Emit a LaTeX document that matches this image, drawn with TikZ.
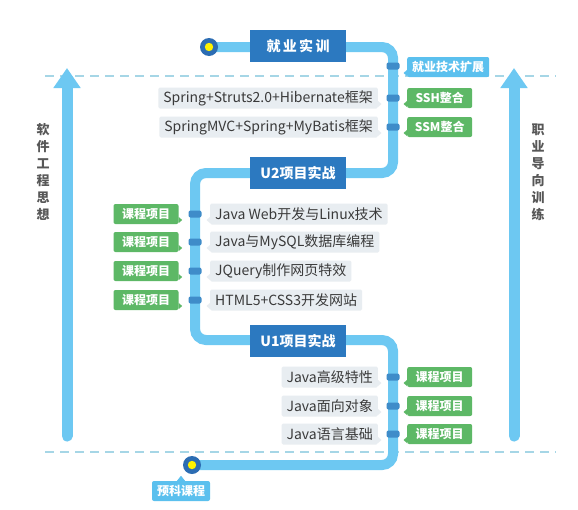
\documentclass[tikz,border=0pt]{standalone}
\usepackage{fontspec}
\setmainfont{Noto Sans CJK SC}
\usetikzlibrary{arrows.meta}
\definecolor{pathblue}{HTML}{6DC8F2}
\definecolor{titleblue}{HTML}{2C79C0}
\definecolor{markblue}{HTML}{3F8CC9}
\definecolor{lblblue}{HTML}{5BC0EE}
\definecolor{grn}{HTML}{5DB866}
\definecolor{graybox}{HTML}{E8EDF1}
\definecolor{txtgray}{HTML}{3A3A3A}
\definecolor{dashc}{HTML}{A6D6E6}
\definecolor{ringblue}{HTML}{2C6DB3}
\definecolor{yel}{HTML}{FFF200}
\tikzset{
  mainline/.style={draw=pathblue, line width=10pt, rounded corners=11pt},
  bigarrow/.style={draw=pathblue, line width=11pt, line cap=round, -{Triangle[width=26pt,length=20pt]}},
  dashline/.style={draw=dashc, line width=1.6pt, dash pattern=on 9pt off 6pt},
  titlebox/.style={fill=titleblue, text=white, font=\bfseries\fontsize{14}{16}\selectfont, minimum width=96pt, minimum height=32pt, inner sep=0pt},
  graylbl/.style={fill=graybox, text=txtgray, font=\fontsize{14}{16}\selectfont, minimum height=21pt, inner xsep=5pt, inner ysep=0pt, rounded corners=1.5pt},
  grnlbl/.style={fill=grn, text=white, font=\bfseries\fontsize{12}{14}\selectfont, minimum height=20pt, minimum width=65pt, inner sep=0pt, rounded corners=2pt},
  bluelbl/.style={fill=lblblue, text=white, font=\bfseries\fontsize{12}{14}\selectfont, minimum height=20pt, inner xsep=5pt, inner ysep=0pt, rounded corners=2pt},
  marker/.style={fill=markblue, minimum width=13pt, minimum height=7pt, inner sep=0pt, rounded corners=2pt},
  vtext/.style={text=txtgray!85, font=\bfseries\fontsize{13}{17}\selectfont, align=center}
}
\begin{document}
\begin{tikzpicture}[x=1pt,y=-1pt]
\useasboundingbox (0,0) rectangle (578,509);
\fill[white] (0,0) rectangle (578,509);

% dashed separators
\coordinate (dtl) at (45,76); \coordinate (dtr) at (556,76);
\coordinate (dbl) at (45,452); \coordinate (dbr) at (556,452);
\draw[dashline] (dtl) -- (dtr);
\draw[dashline] (dbl) -- (dbr);

% big side arrows
\coordinate (la0) at (67,436); \coordinate (la1) at (67,68);
\coordinate (ra0) at (514,436); \coordinate (ra1) at (514,68);
\draw[bigarrow] (la0) -- (la1);
\draw[bigarrow] (ra0) -- (ra1);
\node[vtext] (lt) at (43,172) {软\\件\\工\\程\\思\\想};
\node[vtext] (rt) at (538,172) {职\\业\\导\\向\\训\\练};

% main path
\coordinate (startc) at (209,47);
\coordinate (k1) at (393,47);
\coordinate (k2) at (393,173);
\coordinate (k3) at (195,173);
\coordinate (k4) at (195,340);
\coordinate (k5) at (393,340);
\coordinate (k6) at (393,465);
\coordinate (endc) at (192,465);
\draw[mainline] (startc) -- (k1) -- (k2) -- (k3) -- (k4) -- (k5) -- (k6) -- (endc);

% start / end circles
\fill[ringblue] (startc) circle (9pt);
\fill[yel] (startc) circle (4.2pt);
\fill[ringblue] (endc) circle (9pt);
\fill[yel] (endc) circle (4.2pt);

% title boxes
\node[titlebox] (jy) at (298,46) {就\,业\,实\,训};
\node[titlebox] (u2) at (298,173) {U2项目实战};
\node[titlebox] (u1) at (298,341) {U1项目实战};

% top section
\node[marker] (m1) at (393,66) {};
\node[marker] (m2) at (393,98) {};
\node[marker] (m3) at (393,127) {};
\node[bluelbl, anchor=west] (kz) at (407,67) {就业技术扩展};
\node[grnlbl, anchor=west] (ssh) at (407,98) {SSH整合};
\node[grnlbl, anchor=west] (ssm) at (407,127) {SSM整合};
\node[graylbl, anchor=east] (t1) at (378,98) {Spring+Struts2.0+Hibernate框架};
\node[graylbl, anchor=east] (t2) at (378,127) {SpringMVC+Spring+MyBatis框架};

% U2 section
\foreach \n/\y/\t in {a/214/{Java Web开发与Linux技术}, b/242/{Java与MySQL数据库编程}, c/271/{JQuery制作网页特效}, d/300/{HTML5+CSS3开发网站}}{
  \node[marker] (lm\n) at (195,\y) {};
  \node[grnlbl] (lg\n) at (146,\y) {课程项目};
  \node[graylbl, anchor=west] (lx\n) at (210,\y) {\t};
  \fill[grn] ([yshift=-3pt]lg\n.east) -- ++(3.5,3) -- ++(-3.5,3) -- cycle;
  \fill[graybox] ([yshift=-3pt]lx\n.west) -- ++(-3.5,3) -- ++(3.5,3) -- cycle;
}

% U1 section
\foreach \n/\y/\t in {a/377/{Java高级特性}, b/406/{Java面向对象}, c/434/{Java语言基础}}{
  \node[marker] (rm\n) at (393,\y) {};
  \node[grnlbl, anchor=west] (rg\n) at (407,\y) {课程项目};
  \node[graylbl, anchor=east] (rx\n) at (378,\y) {\t};
  \fill[grn] ([yshift=-3pt]rg\n.west) -- ++(-3.5,3) -- ++(3.5,3) -- cycle;
  \fill[graybox] ([yshift=-3pt]rx\n.east) -- ++(3.5,3) -- ++(-3.5,3) -- cycle;
}

% pointers for top labels
\fill[lblblue] ([yshift=-3pt]kz.west) -- ++(-3.5,3) -- ++(3.5,3) -- cycle;
\foreach \n in {ssh,ssm}{\fill[grn] ([yshift=-3pt]\n.west) -- ++(-3.5,3) -- ++(3.5,3) -- cycle;}
\foreach \n in {t1,t2}{\fill[graybox] ([yshift=-3pt]\n.east) -- ++(3.5,3) -- ++(-3.5,3) -- cycle;}

% bottom label
\node[bluelbl] (yk) at (181,491) {预科课程};
\fill[lblblue] ([xshift=-4pt]yk.north) -- ++(4,-5) -- ++(4,5) -- cycle;
\end{tikzpicture}
\end{document}
